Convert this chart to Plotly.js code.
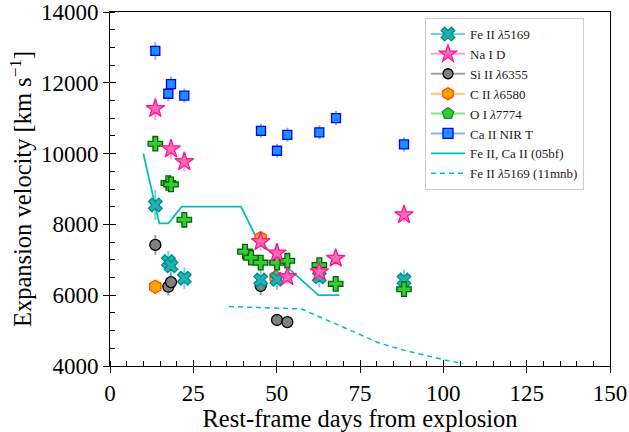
<!DOCTYPE html>
<html>
<head>
<meta charset="utf-8">
<script src="https://cdn.plot.ly/plotly-3.0.1.min.js"></script>
<style>html,body{margin:0;padding:0;background:#fff;}#chart{width:629px;height:432px;}</style>
</head>
<body>
<div id="chart"></div>
<script>
// Fe II λ5169
const feDays = [13.6, 17.5, 18.3, 22.3, 45.2, 50.1, 62.8, 88.2];
const feVel  = [8550, 6950, 6830, 6480, 6430, 6450, 6520, 6430];
const feErr  = [420, 300, 300, 300, 300, 300, 300, 280];
// Na I D
const naDays = [13.6, 18.3, 22.3, 45.2, 50.1, 53.2, 62.8, 67.7, 88.2];
const naVel  = [11270, 10130, 9770, 7510, 7190, 6520, 6660, 7040, 8270];
const naErr  = [320, 280, 280, 250, 250, 200, 200, 200, 200];
// Si II λ6355
const siDays = [13.6, 17.5, 18.3, 45.2, 50.1, 53.2];
const siVel  = [7420, 6240, 6370, 6260, 5300, 5240];
const siErr  = [280, 250, 250, 250, 120, 120];
// C II λ6580
const cDays = [13.6, 45.2, 49.7];
const cVel  = [6240, 7610, 6510];
const cErr  = [150, 200, 150];
// O I λ7774
const oDays = [13.6, 17.5, 18.3, 22.3, 40.5, 42.3, 45.2, 50.1, 53.2, 62.8, 67.7, 88.2];
const oVel  = [10280, 9170, 9130, 8130, 7230, 7060, 6920, 6920, 6975, 6850, 6320, 6170];
const oErr  = [150, 150, 150, 150, 120, 120, 120, 120, 120, 120, 120, 120];
// Ca II NIR T
const caDays = [13.6, 17.5, 18.3, 22.3, 45.3, 50.1, 53.2, 62.8, 67.8, 88.2];
const caVel  = [12900, 11690, 11960, 11640, 10640, 10080, 10530, 10600, 11000, 10260];
const caErr  = [250, 220, 220, 200, 200, 200, 200, 200, 200, 200];
// Fe II, Ca II (05bf)
const bfDays = [10, 13.2, 14.8, 17.5, 21.5, 39.3, 43.5, 48, 62.5, 68.8];
const bfVel  = [10000, 8700, 8030, 8030, 8500, 8500, 7700, 7230, 6000, 6000];
// Fe II λ5169 (11mnb)
const mnbDays = [35.7, 57.5, 81, 88, 100.5, 106];
const mnbVel  = [5680, 5610, 4640, 4450, 4170, 4070];

const names = ['Fe II <i>λ</i>5169', 'Na I D', 'Si II <i>λ</i>6355', 'C II <i>λ</i>6580',
               'O I <i>λ</i>7774', 'Ca II NIR T', 'Fe II, Ca II (05bf)', 'Fe II <i>λ</i>5169 (11mnb)'];

const FONT = '"Liberation Serif", "DejaVu Serif", serif';

function pts(x, y, e, sym, fill, edge, errc, size) {
  return {
    type: 'scatter', mode: 'markers', x: x, y: y, showlegend: false,
    error_y: {type: 'data', array: e, visible: true, color: errc, thickness: 2, width: 0},
    marker: {symbol: sym, size: size, color: fill, line: {color: edge, width: 1.3}},
    hoverinfo: 'x+y'
  };
}
function proxy(name, sym, fill, edge, linec, size) {
  return {
    type: 'scatter', mode: 'lines+markers', x: [null], y: [null], name: name,
    xaxis: 'x2', yaxis: 'y2',
    line: {color: linec, width: 2},
    marker: {symbol: sym, size: size, color: fill, line: {color: edge, width: 1.3}}
  };
}

const data = [
  {type: 'scatter', mode: 'lines', x: bfDays, y: bfVel, showlegend: false,
   line: {color: '#00bfbf', width: 1.8}},
  {type: 'scatter', mode: 'lines', x: mnbDays, y: mnbVel, showlegend: false,
   line: {color: '#00bfbf', width: 1.5, dash: '5px,4px'}},
  pts(cDays, cVel, cErr, 'hexagon', '#ffa500', '#ff4500', 'rgba(255,165,0,0.6)', 13),
  pts(siDays, siVel, siErr, 'circle', '#808080', '#000000', 'rgba(100,100,100,0.6)', 11),
  pts(feDays, feVel, feErr, 'x', '#20b2b2', '#008b8b', 'rgba(0,190,190,0.6)', 12),
  pts(oDays, oVel, oErr, 'cross', '#32cd32', '#006400', 'rgba(50,205,50,0.6)', 12),
  pts(naDays, naVel, naErr, 'star', '#ff69b4', '#ff1493', 'rgba(255,105,180,0.6)', 14),
  pts(caDays, caVel, caErr, 'square', '#1e90ff', '#0000ff', 'rgba(30,144,255,0.6)', 9),
  proxy(names[0], 'x', '#20b2b2', '#008b8b', 'rgba(0,190,190,0.6)', 12),
  proxy(names[1], 'star', '#ff69b4', '#ff1493', 'rgba(255,105,180,0.6)', 13),
  proxy(names[2], 'circle', '#808080', '#000000', 'rgba(100,100,100,0.6)', 10),
  proxy(names[3], 'hexagon', '#ffa500', '#ff4500', 'rgba(255,165,0,0.6)', 12),
  proxy(names[4], 'pentagon', '#32cd32', '#228b22', 'rgba(50,205,50,0.6)', 12),
  proxy(names[5], 'square', '#1e90ff', '#0000ff', 'rgba(30,144,255,0.6)', 10),
  {type: 'scatter', mode: 'lines', x: [null], y: [null], name: names[6], xaxis: 'x2', yaxis: 'y2',
   line: {color: '#00bfbf', width: 1.8}},
  {type: 'scatter', mode: 'lines', x: [null], y: [null], name: names[7], xaxis: 'x2', yaxis: 'y2',
   line: {color: '#00bfbf', width: 1.5, dash: '5px,4px'}}
];

const axBase = {showgrid: false, zeroline: false, color: '#000', linecolor: '#000', linewidth: 1};
const layout = {
  width: 629, height: 432,
  margin: {l: 110, r: 19, t: 12, b: 66, pad: 0},
  paper_bgcolor: '#fff', plot_bgcolor: '#fff',
  font: {family: FONT, color: '#000', size: 23},
  showlegend: true,
  legend: {x: 0.63, y: 0.983, xanchor: 'left', yanchor: 'top',
           bgcolor: '#fff', bordercolor: '#cccccc', borderwidth: 1,
           font: {family: FONT, size: 13, color: '#222'}, tracegroupgap: 0, itemwidth: 34},
  xaxis: Object.assign({}, axBase, {
    range: [0, 150], dtick: 25, tick0: 0, ticks: 'outside', ticklen: 6, tickwidth: 1,
    showline: true, mirror: true, tickformat: 'd', ticklabeloverflow: 'allow',
    minor: {dtick: 5, ticks: 'inside', ticklen: 5, tickcolor: '#000', tickwidth: 1},
    tickfont: {family: FONT, size: 23},
    title: {text: 'Rest-frame days from explosion', font: {family: FONT, size: 24.5}, standoff: 2}
  }),
  yaxis: Object.assign({}, axBase, {
    range: [4000, 14000], dtick: 2000, tick0: 4000, ticks: 'outside', ticklen: 6, tickwidth: 1,
    showline: true, mirror: true, tickformat: 'd', ticklabeloverflow: 'allow',
    minor: {dtick: 500, ticks: 'inside', ticklen: 5, tickcolor: '#000', tickwidth: 1},
    tickfont: {family: FONT, size: 23},
    title: {text: 'Expansion velocity [km s<sup>−1</sup>]', font: {family: FONT, size: 24.5}, standoff: 2}
  }),
  xaxis2: Object.assign({}, axBase, {
    overlaying: 'x', range: [0, 150], dtick: 25, tick0: 0, ticks: 'inside', ticklen: 6,
    showticklabels: false, showline: false, side: 'bottom'
  }),
  yaxis2: Object.assign({}, axBase, {
    overlaying: 'y', range: [4000, 14000], dtick: 2000, tick0: 4000, ticks: 'inside', ticklen: 6,
    showticklabels: false, showline: false, side: 'left'
  })
};

Plotly.newPlot('chart', data, layout, {displayModeBar: false, staticPlot: true});
</script>
</body>
</html>
